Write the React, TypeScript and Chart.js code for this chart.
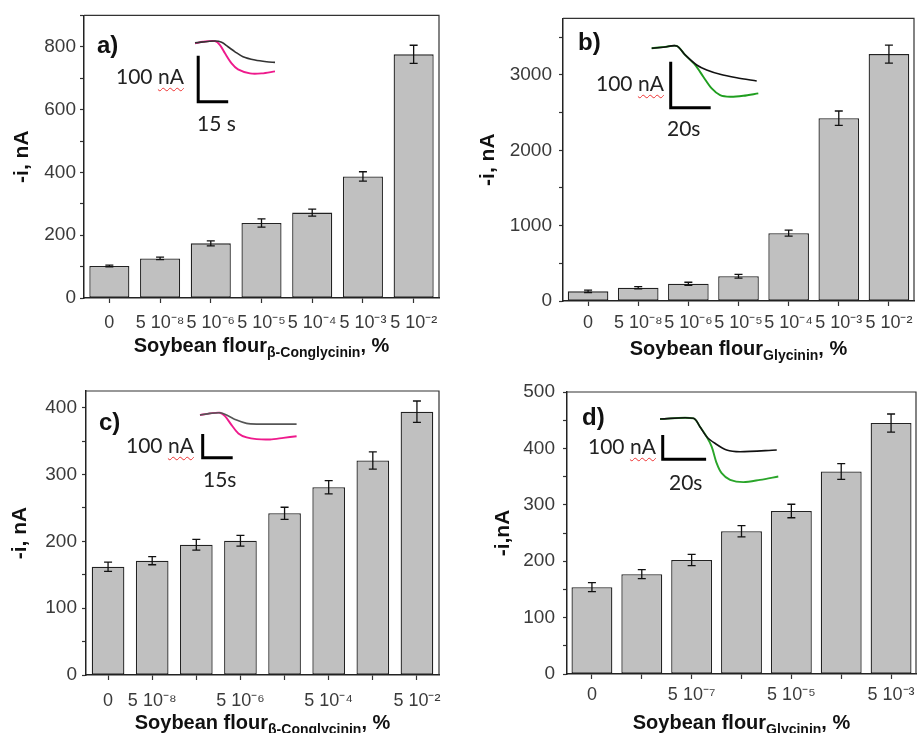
import React, { useEffect, useRef } from 'react';
import { Chart, registerables } from 'chart.js';
Chart.register(...registerables);

const FONT = "'Liberation Sans', Arial, sans-serif";
const INSET_FONT = "Lato, 'Open Sans', sans-serif";

// ---------- Panel a : β-Conglycinin ----------
const aLabels = ['0', '5 10⁻⁸', '5 10⁻⁶', '5 10⁻⁵', '5 10⁻⁴', '5 10⁻³', '5 10⁻²'];
const aValues = [102, 126, 174, 239, 272, 387, 776];
const aErrors = [3, 4, 8, 13, 11, 15, 29];
const aYTicks = [0, 100, 200, 300, 400, 500, 600, 700, 800, 900];
// inset a (time s, current nA)
const aTraceBlack = [
  { x: 0, y: -3.7 }, { x: 10, y: 0 }, { x: 13.3, y: -2.8 }, { x: 16.5, y: -12.4 }, { x: 20, y: -23.3 },
  { x: 24, y: -34.1 }, { x: 30, y: -41.3 }, { x: 35.8, y: -45 }, { x: 40, y: -46.3 },
];
const aTraceColor = [
  { x: 0, y: -5 }, { x: 4, y: -1.5 }, { x: 10, y: 0 }, { x: 12.5, y: -8.7 }, { x: 15, y: -26.7 },
  { x: 18.3, y: -48.5 }, { x: 21.5, y: -61.5 }, { x: 27.5, y: -70.2 }, { x: 33.3, y: -70.2 }, { x: 40, y: -65.9 },
];
const aScaleBar = [{ x: 1.6, y: -32 }, { x: 1.6, y: -132 }, { x: 16.6, y: -132 }];

// ---------- Panel b : Glycinin ----------
const bLabels = ['0', '5 10⁻⁸', '5 10⁻⁶', '5 10⁻⁵', '5 10⁻⁴', '5 10⁻³', '5 10⁻²'];
const bValues = [128, 176, 229, 329, 900, 2426, 3276];
const bErrors = [15, 15, 20, 25, 40, 95, 120];
const bYTicks = [0, 500, 1000, 1500, 2000, 2500, 3000, 3500];
const bTraceBlack = [
  { x: 0, y: -2.8 }, { x: 5.8, y: -0.7 }, { x: 12.5, y: 2.2 }, { x: 16.7, y: -17.4 }, { x: 22.5, y: -39.1 },
  { x: 27.5, y: -50 }, { x: 34.2, y: -59.3 }, { x: 42.5, y: -66.7 }, { x: 52.5, y: -73.9 },
];
const bTraceColor = [
  { x: 0, y: -2.8 }, { x: 6.7, y: 0 }, { x: 12.5, y: 2.2 }, { x: 16.7, y: -17.4 }, { x: 21.7, y: -39.1 },
  { x: 25.8, y: -64.5 }, { x: 30, y: -89.8 }, { x: 34.2, y: -104.3 }, { x: 39.2, y: -108 },
  { x: 45.8, y: -105.9 }, { x: 53.3, y: -100.7 },
];
const bScaleBar = [{ x: 9.5, y: -32 }, { x: 9.5, y: -132 }, { x: 29.5, y: -132 }];

// ---------- Panel c : β-Conglycinin ----------
const cLabels = ['0', '5 10⁻⁸', '', '5 10⁻⁶', '', '5 10⁻⁴', '', '5 10⁻²'];
const cValues = [162, 171, 195, 201, 242, 281, 321, 394];
const cErrors = [7, 6, 8, 8, 9, 10, 13, 16];
const cYTicks = [0, 50, 100, 150, 200, 250, 300, 350, 400];
const cTraceBlack = [
  { x: 0, y: -8.4 }, { x: 5, y: -1.4 }, { x: 10, y: 1.3 }, { x: 13.3, y: -8.4 }, { x: 18.3, y: -29.5 },
  { x: 23.3, y: -43.5 }, { x: 28.3, y: -46.4 }, { x: 48.3, y: -46.4 },
];
const cTraceColor = [
  { x: 0, y: -8.4 }, { x: 5, y: -1.4 }, { x: 10, y: 1.3 }, { x: 12.5, y: -12.7 }, { x: 15.8, y: -50.6 },
  { x: 19.2, y: -85.6 }, { x: 23.3, y: -102.5 }, { x: 28.3, y: -109.7 }, { x: 35, y: -111 },
  { x: 41.7, y: -104.3 }, { x: 48.3, y: -97.3 },
];
const cScaleBar = [{ x: 1.35, y: -88.6 }, { x: 1.35, y: -188.6 }, { x: 16.35, y: -188.6 }];

// ---------- Panel d : Glycinin ----------
const dLabels = ['0', '', '5 10⁻⁷', '', '5 10⁻⁵', '', '5 10⁻³'];
const dValues = [154, 177, 202, 253, 289, 359, 445];
const dErrors = [8, 8, 10, 10, 12, 14, 16];
const dYTicks = [0, 50, 100, 150, 200, 250, 300, 350, 400, 450, 500];
const dTraceBlack = [
  { x: 0, y: -2.1 }, { x: 15.4, y: 0.8 }, { x: 18.4, y: -33.7 }, { x: 21.5, y: -74.9 }, { x: 25.3, y: -102 },
  { x: 30.7, y: -129.6 }, { x: 36.9, y: -136.6 }, { x: 53.8, y: -129.6 },
];
const dTraceColor = [
  { x: 0, y: -2.1 }, { x: 15.4, y: 0.8 }, { x: 18.4, y: -33.7 }, { x: 21.5, y: -74.9 }, { x: 23.8, y: -115.6 },
  { x: 26.1, y: -183.9 }, { x: 28.4, y: -225 }, { x: 32.3, y: -252.5 }, { x: 38.4, y: -262 },
  { x: 46.1, y: -252.5 }, { x: 54.5, y: -238.9 },
];
const dScaleBar = [{ x: 1.24, y: -67.9 }, { x: 1.24, y: -167.9 }, { x: 21.24, y: -167.9 }];

// ---------- layout specs ----------
type Rect = { l: number; t: number; r: number; b: number };
type PanelSpec = {
  tag: string; labels: string[]; values: number[]; errors: number[]; yTicks: number[];
  canvas: Rect; area: Rect; yMax: number; yMajor: number;
  barPct: number; xPad: number; yPad: number; yTitle: string; yTitleX: number;
  sub: string; titleY: number;
  tagPos: [number, number];
  inset: {
    canvas: Rect; xr: [number, number]; yr: [number, number];
    black: { x: number; y: number }[]; color: { x: number; y: number }[]; bar: { x: number; y: number }[];
    blackColor: string; colorColor: string;
    nA: [number, number]; time: string; timePos: [number, number];
  };
};

const panels: PanelSpec[] = [
  {
    tag: 'a)', labels: aLabels, values: aValues, errors: aErrors, yTicks: aYTicks,
    canvas: { l: 0, t: 0, r: 460, b: 365 }, area: { l: 84, t: 14, r: 439, b: 298 },
    yMax: 900, yMajor: 200, barPct: 0.79, xPad: 9, yPad: 4,
    yTitle: '-i, nA', yTitleX: 22, sub: 'β-Conglycinin', titleY: 345, tagPos: [97, 45],
    inset: {
      canvas: { l: 190, t: 36, r: 282, b: 106 }, xr: [-2.5, 43.5], yr: [-141, 11],
      black: aTraceBlack, color: aTraceColor, bar: aScaleBar, blackColor: '#333', colorColor: '#ee1a8c',
      nA: [116, 76], time: '15 s', timePos: [197, 123],
    },
  },
  {
    tag: 'b)', labels: bLabels, values: bValues, errors: bErrors, yTicks: bYTicks,
    canvas: { l: 460, t: 0, r: 920, b: 365 }, area: { l: 563, t: 16, r: 914, b: 301 },
    yMax: 3750, yMajor: 1000, barPct: 0.81, xPad: 6, yPad: 7,
    yTitle: '-i, nA', yTitleX: 488, sub: 'Glycinin', titleY: 348, tagPos: [578, 42],
    inset: {
      canvas: { l: 645, t: 40, r: 765, b: 112 }, xr: [-3.35, 56.65], yr: [-141, 15],
      black: bTraceBlack, color: bTraceColor, bar: bScaleBar, blackColor: '#111', colorColor: '#1f9e1f',
      nA: [596, 83], time: '20s', timePos: [667, 128],
    },
  },
  {
    tag: 'c)', labels: cLabels, values: cValues, errors: cErrors, yTicks: cYTicks,
    canvas: { l: 0, t: 365, r: 460, b: 733 }, area: { l: 86, t: 391, r: 439, b: 675 },
    yMax: 425, yMajor: 100, barPct: 0.74, xPad: 10, yPad: 5,
    yTitle: '-i, nA', yTitleX: 20, sub: 'β-Conglycinin', titleY: 722, tagPos: [99, 422],
    inset: {
      canvas: { l: 195, t: 405, r: 300, b: 462 }, xr: [-2.5, 50], yr: [-206, 34],
      black: cTraceBlack, color: cTraceColor, bar: cScaleBar, blackColor: '#555', colorColor: '#ee1a8c',
      nA: [126, 445], time: '15s', timePos: [203, 479],
    },
  },
  {
    tag: 'd)', labels: dLabels, values: dValues, errors: dErrors, yTicks: dYTicks,
    canvas: { l: 460, t: 365, r: 920, b: 733 }, area: { l: 567, t: 392, r: 916, b: 674 },
    yMax: 500, yMajor: 100, barPct: 0.82, xPad: 5, yPad: 8,
    yTitle: '-i,nA', yTitleX: 503, sub: 'Glycinin', titleY: 722, tagPos: [582, 417],
    inset: {
      canvas: { l: 652, t: 410, r: 790, b: 488 }, xr: [-3.7, 59.9], yr: [-286, 35],
      black: dTraceBlack, color: dTraceColor, bar: dScaleBar, blackColor: '#111', colorColor: '#2aa52a',
      nA: [588, 446], time: '20s', timePos: [669, 482],
    },
  },
];

const errorBarPlugin = {
  id: 'errorBars',
  afterDatasetsDraw(chart: any) {
    const ctx = chart.ctx;
    const ys = chart.scales.y;
    chart.data.datasets.forEach((ds: any, i: number) => {
      const errs = ds.errors;
      if (!errs) return;
      const meta = chart.getDatasetMeta(i);
      meta.data.forEach((bar: any, j: number) => {
        const v = ds.data[j];
        const e = errs[j];
        const x = bar.x;
        const y1 = ys.getPixelForValue(v + e);
        const y2 = ys.getPixelForValue(v - e);
        ctx.save();
        ctx.strokeStyle = '#111';
        ctx.lineWidth = 1.3;
        ctx.beginPath();
        ctx.moveTo(x, y1); ctx.lineTo(x, y2);
        ctx.moveTo(x - 4, y1); ctx.lineTo(x + 4, y1);
        ctx.moveTo(x - 4, y2); ctx.lineTo(x + 4, y2);
        ctx.stroke();
        ctx.restore();
      });
    });
  },
};

const framePlugin = {
  id: 'frame',
  afterDraw(chart: any) {
    const { ctx, chartArea: a } = chart;
    ctx.save();
    ctx.strokeStyle = '#333';
    ctx.lineWidth = 1.2;
    ctx.beginPath();
    ctx.moveTo(a.left, a.top);
    ctx.lineTo(a.right, a.top);
    ctx.lineTo(a.right, a.bottom);
    ctx.stroke();
    ctx.restore();
  },
};

function makeBarChart(canvas: HTMLCanvasElement, p: PanelSpec) {
  const c = p.canvas, a = p.area;
  return new Chart(canvas, {
    type: 'bar',
    data: {
      labels: p.labels,
      datasets: [{
        data: p.values,
        errors: p.errors,
        backgroundColor: '#c0c0c0',
        borderColor: '#222',
        borderWidth: 1.3,
        borderSkipped: false,
        categoryPercentage: 1,
        barPercentage: p.barPct,
      } as any],
    },
    options: {
      responsive: false,
      animation: false,
      layout: { padding: { left: 0, top: a.t - c.t, right: c.r - a.r, bottom: 0 } },
      plugins: { legend: { display: false }, tooltip: { enabled: false } },
      scales: {
        x: {
          type: 'category',
          offset: true,
          afterFit: (s: any) => { s.height = c.b - a.b; },
          grid: { offset: false, drawOnChartArea: false, drawTicks: true, tickLength: 5, tickColor: '#333', tickWidth: 1.2 },
          border: { display: true, color: '#222', width: 1.5 },
          ticks: {
            autoSkip: false, maxRotation: 0, minRotation: 0, padding: p.xPad,
            color: '#3a3a3a', font: { family: FONT, size: 18 },
          },
        },
        y: {
          type: 'linear',
          min: 0,
          max: p.yMax,
          afterFit: (s: any) => { s.width = a.l - c.l; },
          afterBuildTicks: (s: any) => {
            s.ticks = p.yTicks.map((v) => ({ value: v }));
          },
          grid: {
            drawOnChartArea: false, drawTicks: true, tickLength: 4, tickWidth: 1.2, tickColor: '#333',
          },
          border: { display: true, color: '#222', width: 1.5 },
          ticks: {
            autoSkip: false,
            padding: p.yPad,
            color: '#3a3a3a',
            font: { family: FONT, size: 19 },
            callback: (v: any) => (Number(v) % p.yMajor === 0 ? String(v) : ''),
          },
          title: {
            display: true,
            text: p.yTitle,
            color: '#111',
            font: { family: FONT, size: 21, weight: 'bold' },
            padding: { top: p.yTitleX - c.l - 12.6, bottom: 0 },
          },
        },
      },
    } as any,
    plugins: [errorBarPlugin, framePlugin],
  });
}

function makeInsetChart(canvas: HTMLCanvasElement, p: PanelSpec) {
  const s = p.inset;
  const line = (data: any, color: string, width: number) => ({
    data, borderColor: color, borderWidth: width, pointRadius: 0, showLine: true, fill: false,
    tension: 0.3, clip: false,
  });
  return new Chart(canvas, {
    type: 'scatter',
    data: {
      datasets: [
        line(s.black, s.blackColor, 1.6),
        line(s.color, s.colorColor, 1.9),
        { ...line(s.bar, '#000', 3), tension: 0, borderJoinStyle: 'miter', borderCapStyle: 'butt' },
      ],
    },
    options: {
      responsive: false,
      animation: false,
      layout: { padding: 0 },
      plugins: { legend: { display: false }, tooltip: { enabled: false } },
      scales: {
        x: { type: 'linear', display: false, min: s.xr[0], max: s.xr[1] },
        y: { type: 'linear', display: false, min: s.yr[0], max: s.yr[1] },
      },
    } as any,
  });
}

function Panel({ p }: { p: PanelSpec }) {
  const mainRef = useRef<HTMLCanvasElement>(null);
  const insetRef = useRef<HTMLCanvasElement>(null);
  useEffect(() => {
    const c1 = makeBarChart(mainRef.current!, p);
    const c2 = makeInsetChart(insetRef.current!, p);
    return () => { c1.destroy(); c2.destroy(); };
  }, [p]);
  const c = p.canvas, a = p.area, s = p.inset;
  const abs = (l: number, t: number): React.CSSProperties => ({ position: 'absolute', left: l, top: t });
  return (
    <>
      <canvas ref={mainRef} width={c.r - c.l} height={c.b - c.t}
        style={{ ...abs(c.l, c.t), width: c.r - c.l, height: c.b - c.t }} />
      <canvas ref={insetRef} width={s.canvas.r - s.canvas.l} height={s.canvas.b - s.canvas.t}
        style={{ ...abs(s.canvas.l, s.canvas.t), width: s.canvas.r - s.canvas.l, height: s.canvas.b - s.canvas.t }} />
      <div style={{ ...abs(p.tagPos[0], p.tagPos[1] - 14), font: `bold 24px ${FONT}`, lineHeight: '28px', color: '#111' }}>{p.tag}</div>
      <div style={{ ...abs(s.nA[0], s.nA[1] - 13), font: `21px ${INSET_FONT}`, lineHeight: '26px', color: '#222', whiteSpace: 'nowrap' }}>
        100 <span style={{ textDecoration: 'underline wavy #e33', textDecorationThickness: '1px', textUnderlineOffset: '3px' }}>nA</span>
      </div>
      <div style={{ ...abs(s.timePos[0], s.timePos[1] - 13), font: `21px ${INSET_FONT}`, lineHeight: '26px', color: '#222', whiteSpace: 'nowrap' }}>
        {s.time}
      </div>
      <div style={{ ...abs(a.l, p.titleY - 12), width: a.r - a.l, textAlign: 'center', font: `bold 20px ${FONT}`, lineHeight: '24px', color: '#111', whiteSpace: 'nowrap' }}>
        Soybean flour<span style={{ fontSize: 14, position: 'relative', top: 5 }}>{p.sub}</span>, %
      </div>
    </>
  );
}

export default function App() {
  return (
    <div style={{ position: 'absolute', left: 0, top: 0, width: 920, height: 733, background: '#fff', overflow: 'hidden' }}>
      {panels.map((p) => <Panel key={p.tag} p={p} />)}
    </div>
  );
}
